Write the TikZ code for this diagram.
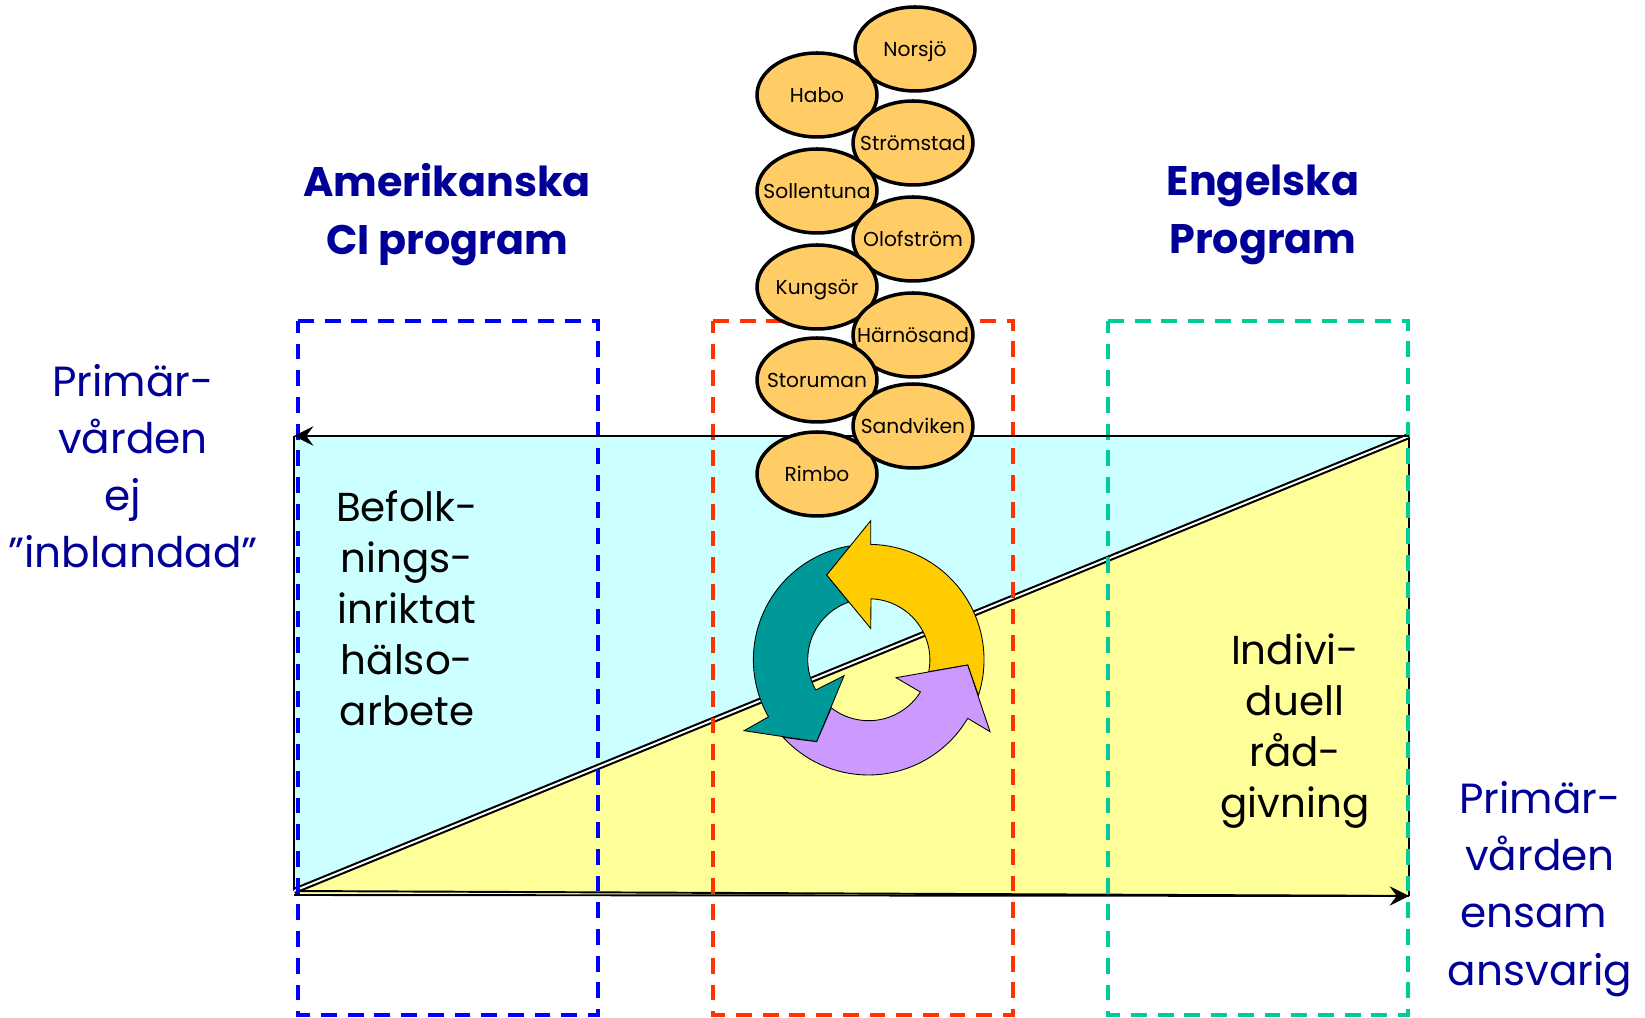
\documentclass[tikz,border=0pt]{standalone}
\usepackage{fontspec}
\usepackage{tikz}
\usetikzlibrary{shapes.geometric,arrows.meta}
\setmainfont{Poppins}

\definecolor{skyfill}{HTML}{CCFFFF}
\definecolor{lemonfill}{HTML}{FFFF99}
\definecolor{townfill}{HTML}{FFCC66}
\definecolor{titleblue}{HTML}{000099}
\definecolor{dashblue}{HTML}{0000FF}
\definecolor{dashred}{HTML}{FF3300}
\definecolor{dashgreen}{HTML}{00CC99}
\definecolor{cycleteal}{HTML}{009999}
\definecolor{cyclegold}{HTML}{FFCC00}
\definecolor{cyclelilac}{HTML}{CC99FF}

\tikzset{
    town/.style={ellipse,draw=black,line width=2pt,fill=townfill,inner sep=0pt,
        minimum width=2.4cm,minimum height=1.68cm,text height=10pt,text depth=1.4pt,
        font=\fontsize{11.5}{14}\selectfont},
    heading/.style={text=titleblue,align=center,font=\fontsize{23.5}{33}\selectfont\bfseries},
    sidetext/.style={text=titleblue,align=center,font=\fontsize{24}{32.5}\selectfont},
    bodytext/.style={text=black,align=center,font=\fontsize{23}{29}\selectfont},
    column/.style={line width=2.2pt,dash pattern=on 9pt off 6.2pt},
    edge/.style={line width=1.1pt},
    axis/.style={edge,-{Stealth[length=11pt,width=11pt,inset=4pt]}},
    blade/.style={draw=black,line width=0.5pt}
}

\begin{document}
\begin{tikzpicture}[x=0.02cm,y=0.02cm]
    \useasboundingbox (0,0) rectangle (1645,1017);

    \coordinate (NW) at (294,581);
    \coordinate (NE) at (1409,581);
    \coordinate (SW) at (294,126);
    \coordinate (AW) at (294,122);
    \coordinate (SE) at (1409,121);
    \coordinate (hub) at (868.7,357.3);

    % the two triangles, hypotenuse is a double line
    \fill[skyfill] (NW) -- (NE) -- (SW) -- cycle;
    \fill[lemonfill] (SW) -- (NE) -- (SE) -- (AW) -- cycle;
    \draw[edge] (SW) -- (NW);
    \draw[edge] (NE) -- (SE);
    \draw[edge] (SW) -- (SE);
    \draw[line width=1.2pt,double=white,double distance=1.1pt] (SW) -- (NE);

    % the three program columns
    \foreach \c/\xa/\xb in {dashblue/298/598,dashred/713/1013,dashgreen/1108/1408}{
        \draw[column,\c] (\xa,696) -- (\xb,696) -- (\xb,2) -- (\xa,2) -- cycle;
    }

    \draw[axis] (NE) -- (NW);
    \draw[axis] (AW) -- (SE);

    % cycle of three arrows, each cut along the head of the next one
    \begin{scope}[shift={(hub)},scale=1/3]
        \path[blade,fill=cycleteal] (99:346) arc (99:209.7:346) -- (-374,-213) -- (-156,-246)
            -- (-74,-48) -- (209.8:183) arc (209.8:109:183) -- (-126,254) -- cycle;
        \path[blade,fill=cyclegold] (89:346) arc (89:-18:346) -- (297,-16) -- (180,-36)
            arc (-11.3:88:183) -- (6,94) -- (-126,254) -- (6,417) -- cycle;
        \path[blade,fill=cyclelilac] (364,-216) -- (297,-176) arc (-30.6:-137.6:346) -- (-156,-246)
            -- (-127.8:183) arc (-127.8:-32:183) -- (82,-54) -- (297,-16) -- cycle;
    \end{scope}

    % the towns
    \foreach \t/\x/\y [count=\i] in {Norsjö/915/968,Habo/817/922,Strömstad/913/874,
        Sollentuna/817/826,Olofström/913/778,Kungsör/817/730,Härnösand/913/682,
        Storuman/817/637,Rimbo/817/543,Sandviken/913/591}{
        \node[town] (town\i) at (\x,\y) {\makebox[0pt]{\t}};
    }

    \node[heading] (american) at (447,802) {Amerikanska\\CI program};
    \node[heading] (english) at (1263,802) {Engelska\\Program};
    \node[sidetext] (notinvolved) at (133,551) {Primär-\\vården\\ej\kern0.5em\\”inblandad”};
    \node[sidetext] (alone) at (1540,128) {Primär-\\vården\\ensam\kern0.3em\\ansvarig};
    \node[bodytext] (population) at (407,409) {Befolk-\\nings-\\inriktat\\hälso-\\arbete};
    \node[bodytext] (individual) at (1295,286) {Indivi-\\duell\\råd-\\givning};
\end{tikzpicture}
\end{document}
